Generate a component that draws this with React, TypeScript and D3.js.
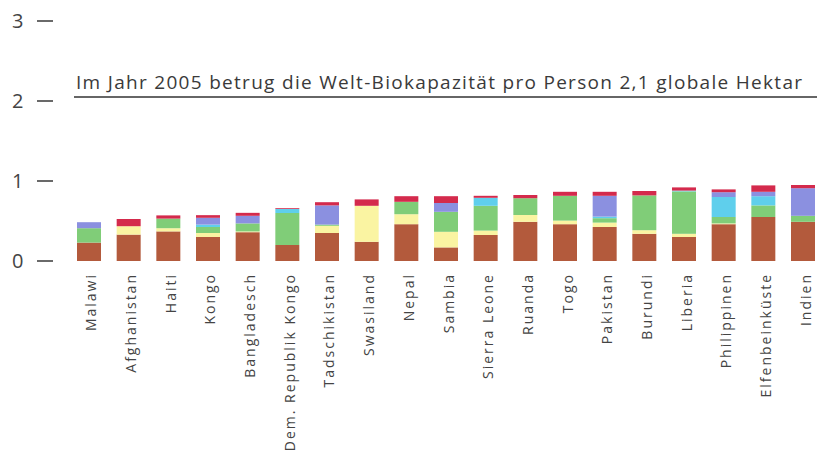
import React from "react";
import * as d3 from "d3";

const countries = [
  "Malawi", "Afghanistan", "Haiti", "Kongo", "Bangladesch", "Dem. Republik Kongo",
  "Tadschikistan", "Swasiland", "Nepal", "Sambia", "Sierra Leone", "Ruanda", "Togo",
  "Pakistan", "Burundi", "Liberia", "Philippinen", "Elfenbeinküste", "Indien",
];

// Footprint components (global hectares per person), bottom to top
const ackerland = [0.23, 0.33, 0.37, 0.3, 0.36, 0.2, 0.35, 0.24, 0.46, 0.17, 0.325, 0.49, 0.46, 0.425, 0.34, 0.3, 0.46, 0.55, 0.49];
const weideland = [0, 0.105, 0.04, 0.05, 0.01, 0, 0.09, 0.45, 0.125, 0.195, 0.055, 0.085, 0.045, 0.055, 0.045, 0.04, 0.01, 0, 0];
const wald = [0.18, 0, 0.12, 0.075, 0.1, 0.4, 0.015, 0, 0.155, 0.25, 0.31, 0.21, 0.31, 0.055, 0.435, 0.53, 0.08, 0.145, 0.075];
const fischgruende = [0, 0, 0, 0.03, 0, 0.05, 0, 0, 0, 0, 0.1, 0, 0, 0.02, 0, 0.01, 0.25, 0.115, 0];
const kohlenstoff = [0.075, 0, 0, 0.085, 0.095, 0, 0.24, 0, 0, 0.11, 0, 0, 0, 0.26, 0, 0, 0.06, 0.055, 0.345];
const bebaut = [0, 0.09, 0.04, 0.033, 0.037, 0.01, 0.04, 0.08, 0.07, 0.085, 0.025, 0.04, 0.05, 0.05, 0.055, 0.04, 0.035, 0.08, 0.04];

const seriesKeys = ["ackerland", "weideland", "wald", "fischgruende", "kohlenstoff", "bebaut"];
const seriesColors = ["#b35a3c", "#faf4a2", "#80cd78", "#5fcfec", "#8b90e0", "#d42a4c"];

const yTicks = [0, 1, 2, 3];
const biocapacityLineValue = 2.05;
const annotation = "Im Jahr 2005 betrug die Welt-Biokapazität pro Person 2,1 globale Hektar";

const W = 818;
const H = 456;

export default function App() {
  const table = countries.map((c, i) => ({
    country: c,
    ackerland: ackerland[i],
    weideland: weideland[i],
    wald: wald[i],
    fischgruende: fischgruende[i],
    kohlenstoff: kohlenstoff[i],
    bebaut: bebaut[i],
  }));

  const x = d3.scaleBand<string>().domain(countries).range([77, 815]).paddingInner(0.395).paddingOuter(0);
  const y = d3.scaleLinear().domain([0, 3]).range([261, 21]);
  const stacked = d3.stack<any>().keys(seriesKeys)(table);
  const font = "'Open Sans', 'Noto Sans', sans-serif";

  return (
    <svg width={W} height={H} style={{ position: "absolute", left: 0, top: 0, background: "#fff" }}>
      {/* y ticks */}
      {yTicks.map((t) => (
        <g key={t}>
          <text x={12} y={y(t)} dy="0.36em" fontFamily={font} fontSize={20} fill="#444">
            {t}
          </text>
          <line x1={37} x2={53} y1={y(t)} y2={y(t)} stroke="#444" strokeWidth={1.6} />
        </g>
      ))}

      {/* biocapacity line and annotation */}
      <line x1={74} x2={817} y1={y(biocapacityLineValue)} y2={y(biocapacityLineValue)} stroke="#333" strokeWidth={1.5} />
      <text x={76} y={y(biocapacityLineValue) - 8} fontFamily={font} fontSize={19} letterSpacing={1.3} fill="#3a3a3a">
        {annotation}
      </text>

      {/* bars */}
      {stacked.map((layer, li) => (
        <g key={layer.key} fill={seriesColors[li]}>
          {layer.map((d, i) => {
            const h = y(d[0]) - y(d[1]);
            if (h <= 0) return null;
            return (
              <rect
                key={i}
                x={x(countries[i])}
                y={y(d[1])}
                width={x.bandwidth()}
                height={h}
              />
            );
          })}
        </g>
      ))}

      {/* x labels */}
      {countries.map((c) => (
        <text
          key={c}
          transform={`translate(${(x(c) as number) + x.bandwidth() / 2 + 2},273) rotate(-90)`}
          textAnchor="end"
          dominantBaseline="central"
          fontFamily={font}
          fontSize={14}
          letterSpacing={2}
          fill="#444"
        >
          {c}
        </text>
      ))}
    </svg>
  );
}
